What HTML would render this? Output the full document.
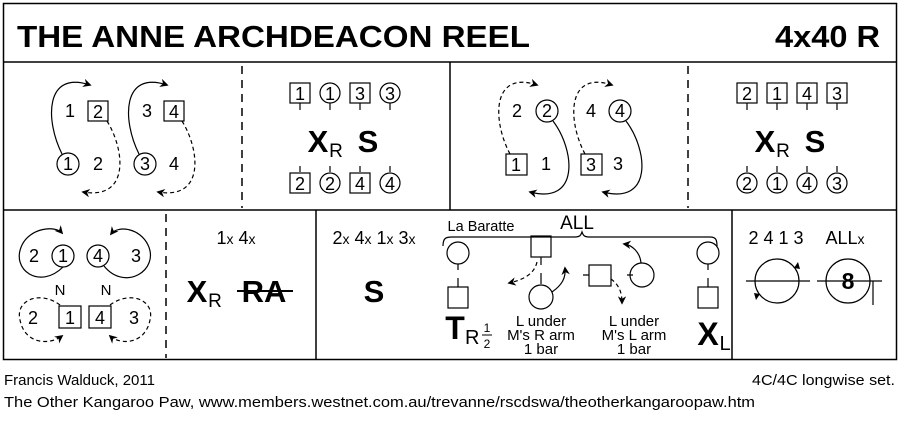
<!DOCTYPE html>
<html><head><meta charset="utf-8"><style>
body{margin:0;background:#fff;}
svg{display:block;font-family:"Liberation Sans",sans-serif;}
</style></head><body>
<svg width="900" height="423" viewBox="0 0 900 423" xmlns="http://www.w3.org/2000/svg">
<defs>
<marker id="a" viewBox="0 0 10 10" refX="8" refY="5" markerWidth="7" markerHeight="7" orient="auto"><path d="M0,0 L10,5 L0,10 L3,5 z" fill="#000"/></marker>
</defs>
<g fill="none" stroke="#000" stroke-width="1.5">
<rect x="3.5" y="3.5" width="893" height="356"/>
<line x1="3" y1="62" x2="897" y2="62"/>
<line x1="3" y1="210" x2="897" y2="210"/>
<line x1="450" y1="62" x2="450" y2="210"/>
<line x1="316" y1="210" x2="316" y2="360"/>
<line x1="732" y1="210" x2="732" y2="360"/>
<g stroke-dasharray="8,6"><line x1="242" y1="66" x2="242" y2="208"/><line x1="688" y1="66" x2="688" y2="208"/><line x1="166" y1="214" x2="166" y2="358"/></g>
</g>
<text x="17" y="47" font-size="31" font-weight="bold" textLength="513" lengthAdjust="spacingAndGlyphs">THE ANNE ARCHDEACON REEL</text>
<text x="775" y="47" font-size="31" font-weight="bold" textLength="105" lengthAdjust="spacingAndGlyphs">4x40 R</text>

<g font-size="18" text-anchor="middle">
<!-- panel 1 -->
<g fill="none" stroke="#000" stroke-width="1.2">
<rect x="88" y="101" width="20" height="20"/><rect x="164" y="101" width="20" height="20"/>
<circle cx="68" cy="164" r="11"/><circle cx="145" cy="164" r="11"/>
<path d="M62,154 C45,120 45,70 90,85" marker-end="url(#a)"/>
<path d="M139,154 C122,120 122,70 167,85" marker-end="url(#a)"/>
<g stroke-dasharray="4,3">
<path d="M107,121 C125,150 130,200 83,192" marker-end="url(#a)"/>
<path d="M182,121 C200,150 205,200 158,192" marker-end="url(#a)"/>
</g>
</g>
<text x="70" y="117">1</text><text x="98" y="118">2</text><text x="147" y="117">3</text><text x="174" y="118">4</text>
<text x="68" y="170">1</text><text x="98" y="170">2</text><text x="145" y="170">3</text><text x="174" y="170">4</text>

<!-- panel 2 -->
<g fill="none" stroke="#000" stroke-width="1.2">
<rect x="290" y="83" width="20" height="20"/><circle cx="330" cy="93" r="10"/><rect x="350" y="83" width="20" height="20"/><circle cx="390" cy="93" r="10"/>
<path d="M300,103v7M330,103v7M360,103v7M390,103v7M300,166v6M330,166v6M360,166v6M390,166v6"/>
<rect x="290" y="173" width="20" height="20"/><circle cx="330" cy="183" r="10"/><rect x="350" y="173" width="20" height="20"/><circle cx="390" cy="183" r="10"/>
</g>
<text x="300" y="100">1</text><text x="330" y="100">1</text><text x="360" y="100">3</text><text x="390" y="100">3</text>
<text x="300" y="190">2</text><text x="330" y="190">2</text><text x="360" y="190">4</text><text x="390" y="190">4</text>
<text x="318" y="152" font-size="31" font-weight="bold">X</text><text x="336" y="157" font-size="19">R</text>
<text x="368" y="152" font-size="31" font-weight="bold">S</text>

<!-- panel 3 -->
<g fill="none" stroke="#000" stroke-width="1.2">
<circle cx="547" cy="111" r="11"/><circle cx="620" cy="111" r="11"/>
<rect x="506" y="154" width="21" height="21"/><rect x="581" y="154" width="21" height="21"/>
<path d="M553,121 C575,150 580,205 530,192" marker-end="url(#a)"/>
<path d="M626,121 C648,150 653,205 603,192" marker-end="url(#a)"/>
<g stroke-dasharray="4,3">
<path d="M510,154 C492,120 492,70 537,85" marker-end="url(#a)"/>
<path d="M585,154 C567,120 567,70 612,85" marker-end="url(#a)"/>
</g>
</g>
<text x="517" y="117">2</text><text x="547" y="117">2</text><text x="591" y="117">4</text><text x="620" y="117">4</text>
<text x="516" y="171">1</text><text x="546" y="170">1</text><text x="591" y="171">3</text><text x="618" y="170">3</text>

<!-- panel 4 -->
<g fill="none" stroke="#000" stroke-width="1.2">
<rect x="737" y="83" width="20" height="20"/><rect x="767" y="83" width="20" height="20"/><rect x="797" y="83" width="20" height="20"/><rect x="827" y="83" width="20" height="20"/>
<path d="M747,103v7M777,103v7M807,103v7M837,103v7M747,166v6M777,166v6M807,166v6M837,166v6"/>
<circle cx="747" cy="183" r="10"/><circle cx="777" cy="183" r="10"/><circle cx="807" cy="183" r="10"/><circle cx="837" cy="183" r="10"/>
</g>
<text x="747" y="100">2</text><text x="777" y="100">1</text><text x="807" y="100">4</text><text x="837" y="100">3</text>
<text x="747" y="190">2</text><text x="777" y="190">1</text><text x="807" y="190">4</text><text x="837" y="190">3</text>
<text x="765" y="152" font-size="31" font-weight="bold">X</text><text x="783" y="157" font-size="19">R</text>
<text x="815" y="152" font-size="31" font-weight="bold">S</text>

<!-- row2 panel A -->
<g fill="none" stroke="#000" stroke-width="1.2">
<circle cx="63" cy="256" r="11"/><circle cx="98" cy="256" r="11"/>
<rect x="59" y="306" width="22" height="22"/><rect x="89" y="306" width="22" height="22"/>
<path d="M63,267 C40,290 10,270 22,245 C30,228 55,225 62,233" marker-end="url(#a)"/>
<path d="M104,266 C125,292 160,270 148,245 C140,228 118,225 111,234" marker-end="url(#a)"/>
<g stroke-dasharray="4,3">
<path d="M60,305 C40,290 15,300 20,320 C25,345 50,345 62,336" marker-end="url(#a)"/>
<path d="M110,305 C130,290 155,300 150,320 C145,345 120,345 110,336" marker-end="url(#a)"/>
</g>
</g>
<text x="34" y="262">2</text><text x="63" y="262">1</text><text x="98" y="262">4</text><text x="136" y="262">3</text>
<text x="60" y="295" font-size="15">N</text><text x="106" y="295" font-size="15">N</text>
<text x="33" y="324">2</text><text x="70" y="324">1</text><text x="100" y="324">4</text><text x="134" y="324">3</text>

<!-- panel B -->
<text x="236" y="244">1<tspan font-size="14">x</tspan> 4<tspan font-size="14">x</tspan></text>
<text x="197" y="302" font-size="31" font-weight="bold">X</text><text x="215" y="307" font-size="19">R</text>
<text x="264" y="302" font-size="31" font-weight="bold">RA</text>
<line x1="237" y1="291" x2="293" y2="291" stroke="#000" stroke-width="2"/>

<!-- panel C -->
<text x="374" y="244">2<tspan font-size="14">x</tspan> 4<tspan font-size="14">x</tspan> 1<tspan font-size="14">x</tspan> 3<tspan font-size="14">x</tspan></text>
<text x="374" y="302" font-size="31" font-weight="bold">S</text>

<!-- panel D -->
<text x="481" y="231" font-size="14.5">La Baratte</text>
<text x="577" y="229" font-size="19">ALL</text>
<g fill="none" stroke="#000" stroke-width="1.2">
<path d="M443,246 C443,238 446,237 452,237 L575,237 C580,237 581,235 582,232 C583,235 584,237 589,237 L710,237 C716,237 717,240 717,246"/>
<circle cx="458" cy="253" r="11"/><path d="M458,264v6M458,278v9"/><rect x="448" y="287" width="20" height="21"/>
<rect x="531" y="236" width="20" height="21"/><path d="M541,257v8M541,273v11"/><circle cx="541" cy="297" r="12"/>
<path d="M537,262 C534,275 522,280 509,283" stroke-dasharray="4,3" marker-end="url(#a)"/>
<path d="M552,292 C562,285 566,278 565,268" marker-end="url(#a)"/>
<rect x="589" y="265" width="22" height="21"/><path d="M583,275h6M627,275h6"/><circle cx="642" cy="275" r="12"/>
<path d="M641,263 C640,252 632,245 624,244" marker-end="url(#a)"/>
<path d="M611,279 C619,285 622,292 622,303" stroke-dasharray="4,3" marker-end="url(#a)"/>
<circle cx="708" cy="253" r="11"/><path d="M708,264v6M708,278v9"/><rect x="698" y="287" width="20" height="21"/>
</g>
<text x="455" y="339" font-size="32" font-weight="bold">T</text>
<text x="465" y="344" font-size="20" text-anchor="start">R</text>
<text x="487" y="332" font-size="12">1</text><line x1="482" y1="335" x2="492" y2="335" stroke="#000"/><text x="487" y="348" font-size="12">2</text>
<g font-size="15"><text x="541" y="326">L under</text><text x="541" y="340">M's R arm</text><text x="541" y="354">1 bar</text>
<text x="634" y="326">L under</text><text x="634" y="340">M's L arm</text><text x="634" y="354">1 bar</text></g>
<text x="708" y="345" font-size="32" font-weight="bold">X</text><text x="725" y="350" font-size="20">L</text>

<!-- panel E -->
<text x="776" y="244">2 4 1 3</text>
<text x="845" y="244">ALL<tspan font-size="14">x</tspan></text>
<g fill="none" stroke="#000" stroke-width="1.2">
<circle cx="777" cy="281" r="22"/><line x1="746" y1="281" x2="810" y2="281"/>
<circle cx="848" cy="281" r="22"/><line x1="817" y1="281" x2="882" y2="281"/><line x1="873" y1="281" x2="873" y2="305"/>
</g>
<path d="M794,268 l4,-6 l2,7z M760,294 l-4,6 l-2,-7z" fill="#000"/>
<text x="848" y="289" font-size="23" font-weight="bold">8</text>
</g>

<g font-size="15">
<text x="4" y="385" textLength="151" lengthAdjust="spacingAndGlyphs">Francis Walduck, 2011</text>
<text x="752" y="385" textLength="143" lengthAdjust="spacingAndGlyphs">4C/4C longwise set.</text>
<text x="4" y="407" textLength="751" lengthAdjust="spacingAndGlyphs">The Other Kangaroo Paw, www.members.westnet.com.au/trevanne/rscdswa/theotherkangaroopaw.htm</text>
</g>
</svg>
</body></html>
